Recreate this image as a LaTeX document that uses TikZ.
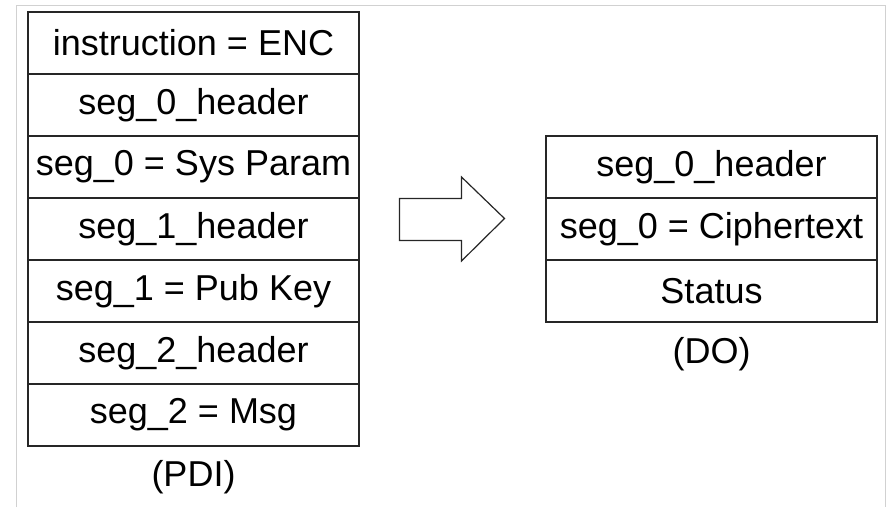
\documentclass[tikz,border=0pt]{standalone}
\usepackage{fontspec}
\setmainfont{Liberation Sans}
\begin{document}
\begin{tikzpicture}[x=1pt,y=-1pt,
  cell/.style={draw=black!85,line width=1.2pt,minimum width=331pt,minimum height=62pt,inner sep=0pt,font=\fontsize{36}{40}\selectfont,anchor=center},
  caption/.style={font=\fontsize{36}{40}\selectfont,inner sep=0pt,anchor=center},
  frame/.style={draw=black!18,line width=1pt}]
\useasboundingbox (0,0) rectangle (890,507);
\draw[frame] (16.5,507) -- (16.5,5.5) -- (885.5,5.5) -- (885.5,507);
% left table (PDI)
\node[cell] (l1) at (193.5,43) {instruction = ENC};
\node[cell] (l2) at (193.5,105) {seg\_0\_header};
\node[cell] (l3) at (193.5,167) {seg\_0 = Sys Param};
\node[cell] (l4) at (193.5,229) {seg\_1\_header};
\node[cell] (l5) at (193.5,291) {seg\_1 = Pub Key};
\node[cell] (l6) at (193.5,353) {seg\_2\_header};
\node[cell] (l7) at (193.5,415) {seg\_2 = Msg};
\node[caption] (pdi) at (193.5,477) {(PDI)};
% right table (DO)
\node[cell] (r1) at (711.5,167) {seg\_0\_header};
\node[cell] (r2) at (711.5,229) {seg\_0 = Ciphertext};
\node[cell] (r3) at (711.5,291) {Status};
\node[caption] (do) at (711.5,354) {(DO)};
% block arrow
\draw[draw=black!85,line width=1.2pt,line join=miter]
  (399.5,198.5) -- (461.5,198.5) -- (461.5,177) -- (504.5,218.5) -- (461.5,261) -- (461.5,240.5) -- (399.5,240.5) -- cycle;
\end{tikzpicture}
\end{document}
